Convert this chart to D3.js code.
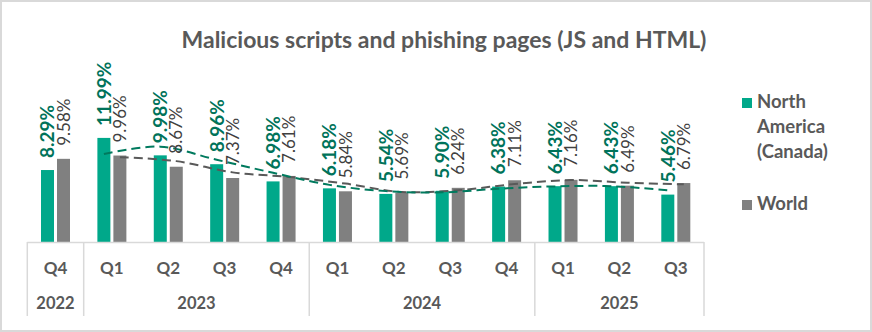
<!DOCTYPE html>
<html><head><meta charset="utf-8">
<script src="https://cdn.jsdelivr.net/npm/d3@7"></script>
<style>
html,body{margin:0;padding:0;background:#fff;}
svg{display:block;}
text{font-family:Lato,"Open Sans",sans-serif;}
</style></head>
<body>
<script>
const quarters = ["Q4","Q1","Q2","Q3","Q4","Q1","Q2","Q3","Q4","Q1","Q2","Q3"];
const years = ["2022","2023","2024","2025"];
const yearSpans = [1,4,4,3];
const northAmerica = [8.29,11.99,9.98,8.96,6.98,6.18,5.54,5.90,6.38,6.43,6.43,5.46];
const world = [9.58,9.96,8.67,7.37,7.61,5.84,5.69,6.24,7.11,7.16,6.49,6.79];
const seriesNames = ["North America (Canada)","World"];
const title = "Malicious scripts and phishing pages (JS and HTML)";

const W = 872, H = 332;
const colors = {na:"#00A88A", world:"#808080", naLabel:"#00735A", worldLabel:"#404040",
  naTrend:"#007A5E", worldTrend:"#595959", axis:"#D9D9D9", text:"#595959"};

const svg = d3.select("body").append("svg").attr("width",W).attr("height",H);
svg.append("rect").attr("x",1).attr("y",1).attr("width",W-2).attr("height",H-2)
  .attr("fill","#fff").attr("stroke","#D9D9D9").attr("stroke-width",2);

svg.append("text").attr("x",444).attr("y",48).attr("text-anchor","middle")
  .attr("font-size",23).attr("font-weight",700).attr("fill",colors.text).text(title);

const idx = d3.range(quarters.length);
const x = d3.scaleBand().domain(idx).range([27.3,704]).paddingInner(0).paddingOuter(0);
const y = d3.scaleLinear().domain([0,22]).range([242,51]);
const barW = 13, gapB = 3;
const cx = i => x(i)+x.bandwidth()/2;
const naX = i => cx(i)-barW-gapB/2;
const wX = i => cx(i)+gapB/2;

// bars
svg.append("g").selectAll("rect").data(northAmerica).join("rect")
  .attr("x",(d,i)=>naX(i)).attr("width",barW).attr("y",d=>y(d)).attr("height",d=>y(0)-y(d))
  .attr("fill",colors.na);
svg.append("g").selectAll("rect").data(world).join("rect")
  .attr("x",(d,i)=>wX(i)).attr("width",barW).attr("y",d=>y(d)).attr("height",d=>y(0)-y(d))
  .attr("fill",colors.world);

// 2-period moving average trendlines
const ma = arr => arr.slice(1).map((v,i)=>({i:i+1, v:(arr[i]+v)/2}));
const line = off => d3.line().x(d=>off(d.i)+barW/2).y(d=>y(d.v)).curve(d3.curveCatmullRom.alpha(0.5));
svg.append("path").datum(ma(world)).attr("d",line(wX)).attr("fill","none")
  .attr("stroke",colors.worldTrend).attr("stroke-width",2).attr("stroke-dasharray","9,5");
svg.append("path").datum(ma(northAmerica)).attr("d",line(naX)).attr("fill","none")
  .attr("stroke",colors.naTrend).attr("stroke-width",2).attr("stroke-dasharray","9,5");

// data labels
svg.append("g").selectAll("text").data(northAmerica).join("text")
  .attr("transform",(d,i)=>`translate(${naX(i)+barW/2},${y(d)-12}) rotate(-90)`)
  .attr("dy","0.36em").attr("font-size",19).attr("font-weight",700).attr("fill",colors.naLabel)
  .text(d=>d.toFixed(2)+"%");
svg.append("g").selectAll("text").data(world).join("text")
  .attr("transform",(d,i)=>`translate(${wX(i)+barW/2},${y(d)-13}) rotate(-90)`)
  .attr("dy","0.36em").attr("font-size",17).attr("fill",colors.worldLabel)
  .text(d=>d.toFixed(2)+"%");

// axis
const ax = svg.append("g");
ax.append("line").attr("x1",x(0)).attr("x2",x(quarters.length-1)+x.bandwidth())
  .attr("y1",242.5).attr("y2",242.5).attr("stroke",colors.axis).attr("stroke-width",1.5);
let bounds=[0]; yearSpans.reduce((a,s)=>{bounds.push(a+s); return a+s;},0);
const bx = b => b<quarters.length ? x(b) : x(quarters.length-1)+x.bandwidth();
bounds.forEach(b=>{
  ax.append("line").attr("x1",bx(b)).attr("x2",bx(b)).attr("y1",242).attr("y2",316)
    .attr("stroke",colors.axis).attr("stroke-width",1.5);
});
ax.selectAll("text.q").data(quarters).join("text").attr("class","q")
  .attr("x",(d,i)=>cx(i)).attr("y",274).attr("text-anchor","middle")
  .attr("font-size",17).attr("font-weight",700).attr("fill",colors.text).text(d=>d);
ax.selectAll("text.yr").data(years).join("text").attr("class","yr")
  .attr("x",(d,k)=>(bx(bounds[k])+bx(bounds[k+1]))/2)
  .attr("y",309).attr("text-anchor","middle")
  .attr("font-size",16.5).attr("font-weight",700).attr("fill",colors.text).text(d=>d);

// legend
const lg = svg.append("g");
lg.append("rect").attr("x",742).attr("y",98).attr("width",10).attr("height",10).attr("fill",colors.na);
const t1 = lg.append("text").attr("x",757).attr("y",108).attr("font-size",18.5).attr("font-weight",700).attr("fill",colors.text);
["North","America","(Canada)"].forEach((w,k)=>t1.append("tspan").attr("x",757).attr("y",108+k*25).text(w));
lg.append("rect").attr("x",742).attr("y",200).attr("width",10).attr("height",10).attr("fill",colors.world);
lg.append("text").attr("x",757).attr("y",210).attr("font-size",18.5).attr("font-weight",700).attr("fill",colors.text).text(seriesNames[1]);
</script>
</body></html>
